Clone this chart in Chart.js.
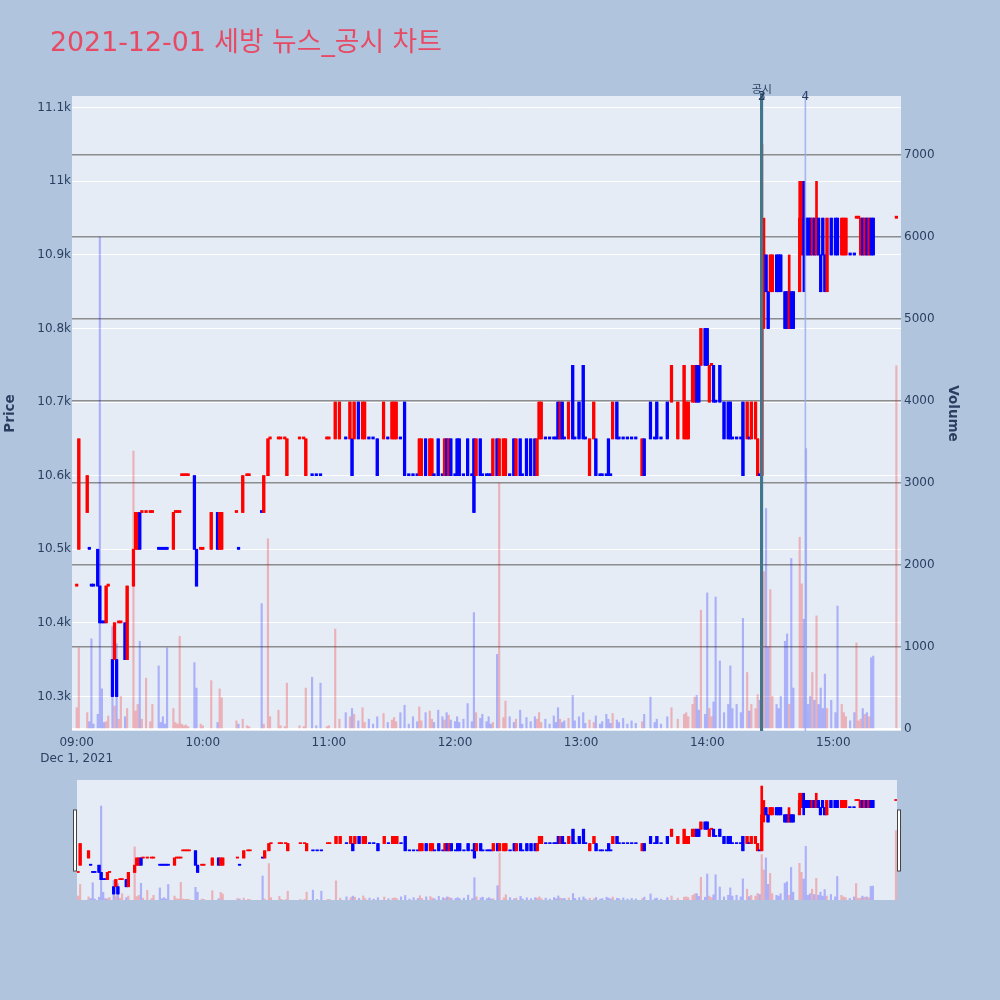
<!DOCTYPE html>
<html>
<head>
<meta charset="utf-8">
<script src="https://cdn.jsdelivr.net/npm/chart.js@4.4.0/dist/chart.umd.min.js"></script>
<style>
  html, body { margin: 0; padding: 0; background: #b0c4de; }
  #wrap { position: relative; width: 1000px; height: 1000px; overflow: hidden; }
  #mainBox { position: absolute; left: 0; top: 0; width: 1000px; height: 776px; }
  #sliderBox { position: absolute; left: 60px; top: 770px; width: 860px; height: 140px; }
</style>
</head>
<body>
<div id="wrap">
  <div id="mainBox"><canvas id="mainChart"></canvas></div>
  <div id="sliderBox"><canvas id="sliderChart"></canvas></div>
</div>
<script>
// 세방 1분봉 — 09:00 기준 경과 분
const minutes = [
  // 09시
  0,1,5,6,7,8,10,11,12,13, 14,15,17,18,19,20,21,23,24,27, 28,29,30,31,33,35,36,39,40,41, 42,43,46,47,48,49,50,51,52,53, 56,57,59,
  // 10시
  60,64,67,68,69,76,77,79,81,82, 88,89,91,92,96,97,99,100,106,108, 109,112,114,116,119,
  // 11시
  120,123,125,128,130,131,132,134,136,137, 139,141,143,146,148,150,151,152,154,156, 158,160,162,163,164,166,168,169,170,172, 174,175,176,177,178,
  // 12시
  180,181,182,184,186,188,189,190,192,193, 195,196,197,198,200,201,203,204,206,208, 209,211,212,214,216,218,219,220,221,223, 225,227,228,229,230,231,232,234,236,237, 239,
  // 13시
  241,242,244,246,247,249,250,252,253,254, 255,257,258,260,262,264,266,269,270,273, 275,276,278,281,283,286,289,290,291,293, 294,295,296,297,299,
  // 14시
  300,301,302,303,304,306,308,310,311,312, 314,316,317,319,320,321,323,324,325,326, 327,328,329,330,331,333,334,335,337,338, 339,340,341,344,345,346,347,348,349,350, 351,352,353,354,355,356,357,359,
  // 15시
  361,362,364,365,366,368,370,371,372,373, 374,375,376,377,378,379,390
];

const opens = [
  10450,10500,10550,10500,10450,10450,10500,10450,10400,10400, 10400,10450,10350,10350,10350,10400,10400,10400,10350,10450,
  10500,10500,10550,10550,10550,10550,10550,10500,10500,10500, 10500,10500,10500,10550,10550,10550,10600,10600,10600,10600,
  10600,10500,10500,
  10500,10500,10550,10500,10500,10550,10500,10550,10600,10600, 10550,10550,10600,10650,10650,10650,10650,10600,10650,10650,
  10600,10600,10600,10600,10650,
  10650,10650,10650,10650,10650,10650,10650,10700,10650,10650, 10650,10650,10650,10650,10650,10650,10650,10650,10650,10700,
  10600,10600,10600,10600,10600,10650,10600,10600,10600,10650, 10600,10600,10650,10600,10650,
  10600,10650,10650,10600,10650,10600,10650,10600,10650,10600, 10600,10600,10600,10600,10650,10600,10600,10600,10600,10650,
  10600,10650,10600,10650,10650,10650,10600,10650,10650,10650, 10650,10650,10650,10700,10650,10700,10650,10650,10750,10650,
  10700,
  10750,10650,10600,10650,10650,10600,10600,10600,10650,10600, 10650,10700,10650,10650,10650,10650,10650,10600,10650,10700,
  10650,10700,10650,10700,10700,10650,10650,10650,10650,10700, 10700,10750,10750,10750,10800,
  10800,10700,10750,10750,10700,10750,10700,10700,10700,10650, 10650,10650,10700,10650,10650,10650,10650,10600,10600,10600,
  10850,10900,10850,10850,10850,10900,10900,10900,10850,10850, 10800,10850,10850,10850,10900,10950,10950,10950,10950,10900,
  10950,10900,10950,10900,10950,10900,10850,10950,
  10950,10950,10900,10900,10900,10900,10900,10950,10950,10900, 10950,10900,10950,10900,10950,10950,10950
];

const highs = [
  10450,10650,10600,10500,10450,10450,10500,10450,10400,10400, 10450,10450,10350,10400,10350,10400,10400,10400,10450,10500,
  10550,10550,10550,10550,10550,10550,10550,10500,10500,10500, 10500,10500,10550,10550,10550,10550,10600,10600,10600,10600,
  10600,10500,10500,
  10500,10550,10550,10550,10550,10550,10500,10600,10600,10600, 10550,10600,10650,10650,10650,10650,10650,10650,10650,10650,
  10650,10600,10600,10600,10650,
  10650,10700,10700,10650,10700,10650,10700,10700,10700,10700, 10650,10650,10650,10700,10650,10700,10700,10700,10650,10700,
  10600,10600,10600,10650,10650,10650,10650,10650,10600,10650, 10600,10650,10650,10650,10650,
  10600,10650,10650,10600,10650,10600,10650,10650,10650,10600, 10600,10600,10600,10650,10650,10650,10650,10650,10600,10650,
  10650,10650,10600,10650,10650,10650,10650,10700,10700,10650, 10650,10650,10650,10700,10700,10700,10650,10700,10750,10650,
  10700,
  10750,10650,10650,10700,10650,10600,10600,10600,10650,10600, 10700,10700,10650,10650,10650,10650,10650,10650,10650,10700,
  10650,10700,10650,10700,10750,10700,10750,10700,10700,10750, 10750,10750,10750,10800,10800,
  10800,10750,10750,10750,10700,10750,10700,10700,10700,10650, 10650,10650,10700,10700,10650,10700,10700,10650,10600,11050,
  10950,10900,10850,10900,10900,10900,10900,10900,10850,10850, 10900,10850,10850,11000,11000,11000,10950,10950,10950,10950,
  10950,11000,10950,10900,10950,10900,10950,10950,
  10950,10950,10950,10950,10950,10900,10900,10950,10950,10950, 10950,10950,10950,10950,10950,10950,10950
];

const lows = [
  10450,10500,10550,10500,10450,10450,10450,10400,10400,10400, 10400,10450,10300,10350,10300,10400,10400,10350,10350,10450,
  10500,10500,10500,10550,10550,10550,10550,10500,10500,10500, 10500,10500,10500,10550,10550,10550,10600,10600,10600,10600,
  10500,10450,10500,
  10500,10500,10500,10500,10500,10550,10500,10550,10600,10600, 10550,10550,10600,10650,10650,10650,10650,10600,10650,10650,
  10600,10600,10600,10600,10650,
  10650,10650,10650,10650,10650,10600,10650,10650,10650,10650, 10650,10650,10600,10650,10650,10650,10650,10650,10650,10600,
  10600,10600,10600,10600,10600,10600,10600,10600,10600,10600, 10600,10600,10600,10600,10600,
  10600,10600,10600,10600,10600,10600,10550,10600,10600,10600, 10600,10600,10600,10600,10600,10600,10600,10600,10600,10600,
  10600,10600,10600,10600,10600,10600,10600,10650,10650,10650, 10650,10650,10650,10650,10650,10650,10650,10650,10650,10650,
  10650,
  10650,10650,10600,10650,10600,10600,10600,10600,10600,10600, 10650,10650,10650,10650,10650,10650,10650,10600,10600,10650,
  10650,10650,10650,10650,10700,10650,10650,10650,10650,10700, 10700,10700,10700,10750,10750,
  10750,10700,10750,10700,10700,10700,10650,10650,10650,10650, 10650,10650,10600,10650,10650,10650,10650,10600,10600,10600,
  10800,10850,10800,10850,10850,10850,10850,10850,10800,10800, 10800,10800,10800,10850,10900,10850,10900,10900,10900,10900,
  10900,10900,10900,10850,10900,10850,10850,10900,
  10900,10900,10900,10900,10900,10900,10900,10950,10950,10900, 10900,10900,10900,10900,10900,10900,10950
];

const closes = [
  10450,10650,10600,10500,10450,10450,10450,10400,10400,10400, 10450,10450,10300,10400,10300,10400,10400,10350,10450,10500,
  10550,10550,10500,10550,10550,10550,10550,10500,10500,10500, 10500,10500,10550,10550,10550,10550,10600,10600,10600,10600,
  10500,10450,10500,
  10500,10550,10500,10550,10550,10550,10500,10600,10600,10600, 10550,10600,10650,10650,10650,10650,10650,10650,10650,10650,
  10650,10600,10600,10600,10650,
  10650,10700,10700,10650,10700,10600,10700,10650,10700,10700, 10650,10650,10600,10700,10650,10700,10700,10700,10650,10600,
  10600,10600,10600,10650,10650,10600,10650,10650,10600,10600, 10600,10650,10600,10650,10600,
  10600,10600,10600,10600,10600,10600,10550,10650,10600,10600, 10600,10600,10600,10650,10600,10650,10650,10650,10600,10600,
  10650,10600,10600,10600,10600,10600,10650,10700,10700,10650, 10650,10650,10650,10650,10700,10650,10650,10700,10650,10650,
  10650,
  10650,10650,10650,10700,10600,10600,10600,10600,10600,10600, 10700,10650,10650,10650,10650,10650,10650,10650,10600,10650,
  10650,10650,10650,10650,10750,10700,10750,10700,10700,10750, 10750,10700,10700,10800,10750,
  10750,10750,10750,10700,10700,10700,10650,10650,10650,10650, 10650,10650,10600,10700,10650,10700,10700,10650,10600,10850,
  10900,10850,10800,10900,10900,10850,10850,10850,10800,10800, 10850,10800,10800,10950,10950,10900,10900,10900,10900,10950,
  10900,10950,10900,10850,10900,10850,10950,10900,
  10900,10900,10950,10950,10950,10900,10900,10950,10950,10950, 10900,10950,10900,10950,10900,10900,10950
];

const volumes = [
  260,990,200,90,1100,60,180,6000,490,80, 90,160,1250,280,1040,120,400,150,250,3390,
  220,300,1070,120,620,90,300,770,80,150, 60,990,250,80,60,1130,60,40,50,30,
  810,500,60,
  40,590,80,490,380,100,60,120,40,30, 1530,60,2320,150,230,40,30,560,40,30,
  500,630,40,560,30,
  40,1220,120,200,150,250,180,100,260,80, 120,60,150,190,80,110,140,90,200,290,
  60,150,90,270,100,200,220,120,80,230, 150,110,200,170,110,
  90,150,80,120,310,90,1420,200,130,180, 90,150,60,80,910,3000,140,340,150,80,
  120,230,60,140,90,150,120,200,80,120, 60,160,80,260,120,80,100,130,410,100,
  150,
  200,70,110,80,160,60,90,180,120,70, 190,110,80,130,60,100,70,90,180,390,
  80,120,60,150,260,120,180,200,150,300, 390,410,230,1450,180,
  1660,250,150,330,1610,830,200,300,770,250, 300,200,1350,690,220,300,250,420,350,2900,
  1920,2690,1000,1700,400,300,250,400,1070,1160, 300,2080,500,2340,1770,1340,3420,300,400,690,
  350,1380,300,500,250,670,250,350,
  200,1500,300,200,150,100,200,1050,100,120, 250,180,200,150,870,890,4430
];

// 축 눈금
const hourTicks = [0, 60, 120, 180, 240, 300, 360];
const hourLabels = ['09:00', '10:00', '11:00', '12:00', '13:00', '14:00', '15:00'];
const dateLabel = 'Dec 1, 2021';
const priceTicks = [10300, 10400, 10500, 10600, 10700, 10800, 10900, 11000, 11100];
const priceTickLabels = ['10.3k', '10.4k', '10.5k', '10.6k', '10.7k', '10.8k', '10.9k', '11k', '11.1k'];
const volumeTicks = [0, 1000, 2000, 3000, 4000, 5000, 6000, 7000];

// 뉴스/공시 표시
const eventMinutes = [326, 326, 346.7];
const eventLabels = ['2', '3', '4'];
const eventTitle = '공시';
const chartTitle = '2021-12-01 세방 뉴스_공시 차트';

const eventColors = ['rgb(66,118,138)', 'rgb(66,118,138)', 'rgba(150,170,235,0.8)'];
const textColor = '#2a3f5f';
const plotBg = '#e5ecf6';
const fontStack = '"DejaVu Sans", "Noto Sans CJK KR", sans-serif';
Chart.defaults.font.family = fontStack;
Chart.defaults.color = textColor;

// 같은 가격이면 직전 종가와 비교 (plotly 방식)
function candleDirections() {
  const dirs = [];
  let prevClose, prevDir = 1;
  for (let i = 0; i < minutes.length; i++) {
    const o = opens[i], c = closes[i];
    let d;
    if (c > o) d = 1;
    else if (c < o) d = -1;
    else if (prevClose === undefined || c === prevClose) d = prevDir;
    else d = c > prevClose ? 1 : -1;
    dirs.push(d);
    prevDir = d;
    prevClose = c;
  }
  return dirs;
}
const dirs = candleDirections();

function buildDatasets(minLen) {
  return [
    {
      label: 'Volume',
      yAxisID: 'y1',
      order: 3,
      grouped: false,
      barThickness: 1.5,
      data: minutes.map((m, i) => ({ x: m, y: volumes[i] })),
      backgroundColor: dirs.map(d => d > 0 ? 'rgba(255,0,0,0.25)' : 'rgba(0,0,255,0.25)')
    },
    {
      label: 'Wick',
      yAxisID: 'y',
      order: 2,
      grouped: false,
      barThickness: 2,
      data: minutes.map((m, i) => ({ x: m, y: [lows[i], highs[i]] })),
      backgroundColor: dirs.map(d => d > 0 ? '#ff0000' : '#0000ff')
    },
    {
      label: 'Body',
      yAxisID: 'y',
      order: 1,
      grouped: false,
      barThickness: 2.6,
      minBarLength: minLen,
      data: minutes.map((m, i) => ({ x: m, y: [opens[i], closes[i]] })),
      backgroundColor: dirs.map(d => d > 0 ? '#ff0000' : '#0000ff')
    }
  ];
}

const plotBackground = {
  id: 'plotBackground',
  beforeDraw(chart) {
    const { ctx, chartArea } = chart;
    ctx.save();
    ctx.fillStyle = plotBg;
    ctx.fillRect(chartArea.left, chartArea.top, chartArea.right - chartArea.left, chartArea.bottom - chartArea.top);
    ctx.restore();
  }
};

const eventMarkers = {
  id: 'eventMarkers',
  afterDraw(chart) {
    const { ctx, chartArea, scales: { x } } = chart;
    ctx.save();
    eventMinutes.forEach((m, i) => {
      const px = x.getPixelForValue(m);
      ctx.strokeStyle = eventColors[i];
      ctx.lineWidth = i < 2 ? 3 : 1.6;
      ctx.beginPath();
      ctx.moveTo(px - (i < 2 ? 0.3 : 0), chartArea.top - 3);
      ctx.lineTo(px - (i < 2 ? 0.3 : 0), chartArea.bottom);
      ctx.stroke();
    });
    ctx.fillStyle = textColor;
    ctx.font = '12px ' + fontStack;
    ctx.textAlign = 'center';
    ctx.textBaseline = 'middle';
    eventMinutes.forEach((m, i) => {
      ctx.fillText(eventLabels[i], x.getPixelForValue(m), chartArea.top + 1);
    });
    ctx.font = '11px ' + fontStack;
    ctx.fillText(eventTitle, x.getPixelForValue(eventMinutes[0]), chartArea.top - 6);
    // 제목
    ctx.fillStyle = '#e84a64';
    ctx.font = '26.8px ' + fontStack;
    ctx.textAlign = 'left';
    ctx.textBaseline = 'alphabetic';
    ctx.fillText(chartTitle, 50, 51);
    ctx.restore();
  }
};

new Chart(document.getElementById('mainChart'), {
  type: 'bar',
  data: { datasets: buildDatasets(2) },
  options: {
    responsive: true,
    maintainAspectRatio: false,
    animation: false,
    layout: { padding: { top: 96, right: 37, bottom: 0, left: 0 } },
    plugins: { legend: { display: false }, tooltip: { enabled: false } },
    scales: {
      x: {
        type: 'linear',
        offset: false,
        min: -2.24,
        max: 392.2,
        afterFit: s => { s.height = 45; },
        afterBuildTicks: s => { s.ticks = hourTicks.map(v => ({ value: v })); },
        grid: { display: false, drawTicks: false },
        border: { display: false },
        ticks: {
          autoSkip: false,
          maxRotation: 0,
          padding: 4,
          color: textColor,
          font: { size: 12, lineHeight: 1.333 },
          callback: v => {
            const i = hourTicks.indexOf(v);
            if (i < 0) return '';
            return i === 0 ? [hourLabels[0], dateLabel] : hourLabels[i];
          }
        }
      },
      y: {
        position: 'left',
        min: 10253,
        max: 11116,
        afterFit: s => { s.width = 72; },
        afterBuildTicks: s => { s.ticks = priceTicks.map(v => ({ value: v })); },
        grid: { color: '#ffffff', lineWidth: 1, drawTicks: false },
        border: { display: false },
        title: { display: true, text: 'Price', color: textColor, font: { size: 13.5, weight: 'bold' }, padding: { top: 2, bottom: 0 } },
        ticks: {
          padding: 1,
          color: textColor,
          font: { size: 12 },
          callback: v => priceTickLabels[priceTicks.indexOf(v)]
        }
      },
      y1: {
        position: 'right',
        min: -24,
        max: 7720,
        z: 1,
        afterFit: s => { s.width = 62; },
        afterBuildTicks: s => { s.ticks = volumeTicks.map(v => ({ value: v })); },
        grid: {
          drawTicks: false,
          color: c => c.tick && c.tick.value === 0 ? '#ffffff' : 'rgba(125,125,125,0.85)',
          lineWidth: c => c.tick && c.tick.value === 0 ? 2 : 1.5
        },
        border: { display: false },
        title: { display: true, text: 'Volume', color: textColor, font: { size: 13.5, weight: 'bold' }, padding: { top: 2, bottom: 0 } },
        ticks: {
          padding: 3,
          color: textColor,
          font: { size: 12 },
          callback: v => String(v)
        }
      }
    }
  },
  plugins: [plotBackground, eventMarkers]
});

// 레인지 슬라이더 (축소 미리보기)
const sliderHandles = {
  id: 'sliderHandles',
  afterDraw(chart) {
    const { ctx, chartArea } = chart;
    const midY = (chartArea.top + chartArea.bottom) / 2;
    ctx.save();
    ctx.fillStyle = '#ffffff';
    ctx.strokeStyle = '#444444';
    ctx.lineWidth = 1;
    [chartArea.left - 3.5, chartArea.right + 0.5].forEach(hx => {
      ctx.fillRect(hx, midY - 30, 3, 61);
      ctx.strokeRect(hx, midY - 30, 3, 61);
    });
    ctx.restore();
  }
};

new Chart(document.getElementById('sliderChart'), {
  type: 'bar',
  data: { datasets: buildDatasets(1) },
  options: {
    responsive: true,
    maintainAspectRatio: false,
    animation: false,
    layout: { padding: { top: 10, right: 23, bottom: 10, left: 17 } },
    plugins: { legend: { display: false }, tooltip: { enabled: false } },
    scales: {
      x: { type: 'linear', offset: false, min: -0.5, max: 390.5, display: false },
      y: { min: 10258, max: 11092, display: false },
      y1: { min: 0, max: 7660, display: false }
    }
  },
  plugins: [plotBackground, sliderHandles]
});
</script>
</body>
</html>
